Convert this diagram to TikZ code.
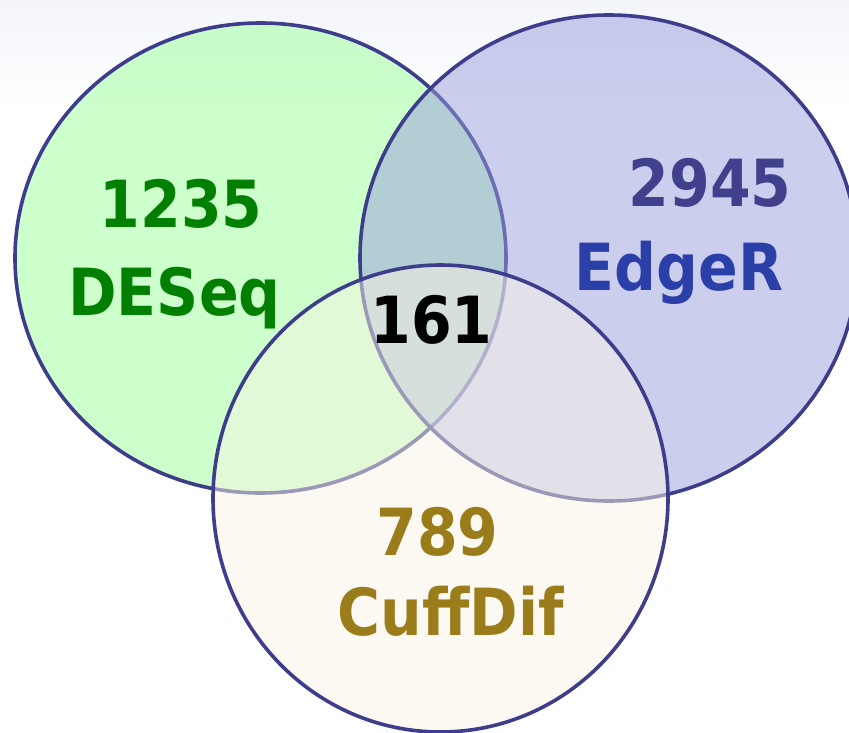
\documentclass[tikz,border=0pt]{standalone}
\usepackage{fontspec}
\newfontfamily\vennfont{DejaVu Sans Condensed}
\definecolor{vennline}{HTML}{3D3D8C}
\definecolor{deseqfill}{HTML}{99FF99}
\definecolor{edgerfill}{HTML}{999DDC}
\definecolor{cufffill}{HTML}{F9F3E5}
\definecolor{deseqtext}{HTML}{007F00}
\definecolor{edgertext}{HTML}{2B3FA8}
\definecolor{edgernum}{HTML}{40408C}
\definecolor{cufftext}{HTML}{9A7D1A}
\definecolor{bgtop}{HTML}{F3F5FA}
\begin{document}
\begin{tikzpicture}[x=1pt, y=-1pt, set/.style={draw=vennline, line width=3.6pt, fill opacity=0.5}, count/.style={font=\vennfont\bfseries\fontsize{65}{70}\selectfont, inner sep=0pt, anchor=base} ]
		\useasboundingbox (0,0) rectangle (849,733);
		\clip (0,0) rectangle (849,733);
		\fill[top color=bgtop, bottom color=white] (0,0) rectangle (849,110);
		\coordinate (deseq) at (260.5,258);
		\coordinate (edger) at (609,258);
		\coordinate (cuff) at (440.5,498.5);
		\draw[set, fill=deseqfill] (deseq) ellipse [x radius=245.5pt, y radius=235pt];
		\draw[set, fill=edgerfill] (edger) ellipse [x radius=249pt, y radius=243pt];
		\draw[set, fill=cufffill] (cuff) ellipse [x radius=227.5pt, y radius=233.5pt];
		\node[count, text=deseqtext] (n-deseq) at (181,227) {1235};
		\node[count, text=deseqtext] (l-deseq) at (174.5,315) {DESeq};
		\node[count, text=edgernum] (n-edger) at (710,207) {2945};
		\node[count, text=edgertext] (l-edger) at (679,290) {EdgeR};
		\node[count, text=black] (n-all) at (431.5,343) {161};
		\node[count, text=cufftext] (n-cuff) at (437.5,555) {789};
		\node[count, text=cufftext] (l-cuff) at (450.5,635) {CuffDif};
	\end{tikzpicture}
\end{document}
